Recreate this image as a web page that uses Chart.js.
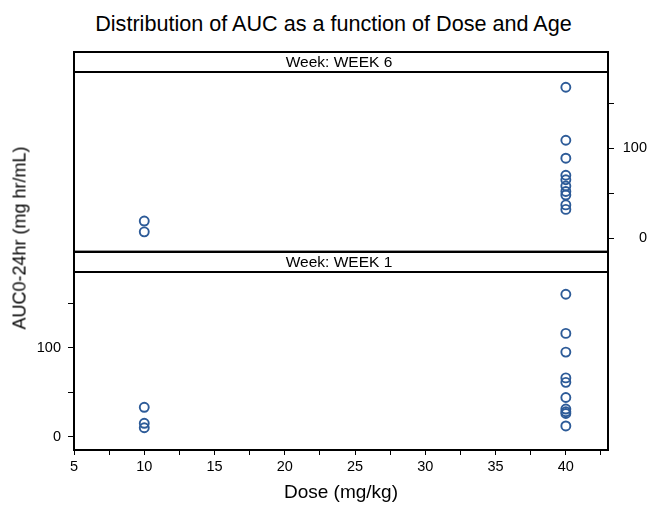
<!DOCTYPE html>
<html>
<head>
<meta charset="utf-8">
<script src="https://cdn.jsdelivr.net/npm/chart.js@4"></script>
<style>
  body { margin: 0; background: #fff; font-family: "Liberation Sans", Arial, sans-serif; }
  #wrap { position: relative; width: 647px; height: 506px; }
  #title { position: absolute; left: 0; top: 12px; width: 667px; text-align: center; font-size: 21.6px; line-height: 24px; color: #000; }
  #ytitle { position: absolute; left: 20px; top: 238px; transform: translate(-50%, -50%) rotate(-90deg); white-space: nowrap; font-size: 18px; color: #000; }
  canvas { position: absolute; left: 0; }
</style>
</head>
<body>
<div id="wrap">
  <div id="title">Distribution of AUC as a function of Dose and Age</div>
  <canvas id="week6" width="647" height="258" style="top:0"></canvas>
  <canvas id="week1" width="647" height="256" style="top:250px"></canvas>
  <div id="ytitle">AUC0-24hr (mg hr/mL)</div>
</div>
<script>
// AUC values, by dose group
const doses = [10, 40];
const week6Dose10 = [19, 7];
const week6Dose40 = [168, 109, 89, 70, 65, 58, 52, 48, 37, 32];
const week1Dose10 = [33, 15, 10];
const week1Dose40 = [160, 116, 95, 66, 61, 44, 31, 28, 26, 12];
const yTicks = [0, 50, 100, 150];
const yLabels = [0, 100];
const xMin = 5, xMax = 43;
const yMin = -15, yMax = 185;

const markerColor = "#2d5b98";
const fontFamily = "'Liberation Sans', Arial, sans-serif";

function toPoints(dose, values) {
  return values.map(v => ({ x: dose, y: v }));
}

// draws the panel box and the strip with the panel name
const panelFrame = {
  id: "panelFrame",
  afterDraw(chart, args, opts) {
    const { ctx, chartArea } = chart;
    const { left, top, right, bottom } = chartArea;
    const stripH = 20;
    ctx.save();
    ctx.strokeStyle = "#000";
    ctx.lineWidth = 2;
    ctx.strokeRect(left, top - stripH, right - left, bottom - top + stripH);
    ctx.beginPath();
    ctx.moveTo(left, top);
    ctx.lineTo(right, top);
    ctx.stroke();
    ctx.fillStyle = "#000";
    ctx.font = "15.5px " + fontFamily;
    ctx.textAlign = "center";
    ctx.textBaseline = "middle";
    ctx.fillText(opts.label, (left + right) / 2 - 2, top - stripH / 2 + 1);
    ctx.restore();
  }
};

function makeChart(id, label, d10, d40, isBottom) {
  const yAxis = {
    type: "linear",
    position: isBottom ? "left" : "right",
    min: yMin,
    max: yMax,
    border: { display: false },
    grid: { display: true, drawOnChartArea: false, drawTicks: true, tickLength: 6, color: "#000" },
    ticks: {
      color: "#000",
      font: { size: 14.5, family: fontFamily },
      padding: isBottom ? 7 : 4,
      crossAlign: isBottom ? "near" : "far",
      callback: value => (yLabels.includes(value) ? String(value) : "")
    },
    afterBuildTicks: scale => { scale.ticks = yTicks.map(v => ({ value: v })); },
    afterFit: scale => {
      scale.width = isBottom ? 74 : 39;
      scale.paddingTop = 0;
      scale.paddingBottom = 0;
    }
  };

  const xAxis = {
    type: "linear",
    position: "bottom",
    min: xMin,
    max: xMax,
    display: isBottom,
    border: { display: false },
    grid: { display: true, drawOnChartArea: false, drawTicks: true, tickLength: 5, color: "#000" },
    ticks: {
      stepSize: 2.5,
      includeBounds: false,
      autoSkip: false,
      maxRotation: 0,
      color: "#000",
      font: { size: 14.5, family: fontFamily },
      padding: 3,
      callback: value => (value % 5 === 0 ? String(value) : "")
    },
    title: {
      display: true,
      text: "Dose (mg/kg)",
      color: "#000",
      font: { size: 19, family: fontFamily },
      padding: { top: 0, bottom: 2 }
    }
  };
  if (isBottom) {
    xAxis.afterFit = scale => { scale.height = 56; };
  }

  return new Chart(document.getElementById(id), {
    type: "scatter",
    data: {
      datasets: [
        { label: "Dose " + doses[0], data: toPoints(doses[0], d10) },
        { label: "Dose " + doses[1], data: toPoints(doses[1], d40) }
      ].map(ds => Object.assign(ds, {
        pointStyle: "circle",
        pointRadius: 4.5,
        pointBorderWidth: 1.9,
        borderColor: markerColor,
        backgroundColor: "rgba(0,0,0,0)",
        pointHoverRadius: 4.5
      }))
    },
    options: {
      responsive: false,
      animation: false,
      layout: {
        padding: isBottom
          ? { top: 22, left: 0, right: 39, bottom: 0 }
          : { top: 72, left: 74, right: 0, bottom: 2 }
      },
      plugins: {
        legend: { display: false },
        tooltip: { enabled: false },
        panelFrame: { label: label }
      },
      scales: { x: xAxis, y: yAxis }
    },
    plugins: [panelFrame]
  });
}

makeChart("week6", "Week: WEEK 6", week6Dose10, week6Dose40, false);
makeChart("week1", "Week: WEEK 1", week1Dose10, week1Dose40, true);
</script>
</body>
</html>
